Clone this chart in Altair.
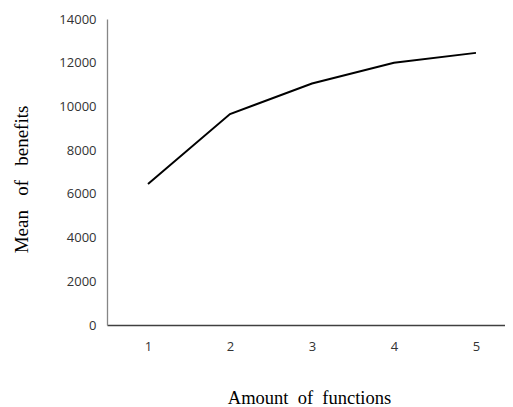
import altair as alt
import pandas as pd

functions = [1, 2, 3, 4, 5]
benefits = [6450, 9650, 11050, 12000, 12450]

df = pd.DataFrame({"functions": functions, "benefits": benefits})

chart = alt.Chart(df).mark_line(color="black", strokeWidth=2).encode(
    x=alt.X("functions:Q",
            scale=alt.Scale(domain=[0.5, 5.354], nice=False, zero=False),
            axis=alt.Axis(values=functions, format="d", title="Amount\u00a0 of\u00a0 functions",
                          grid=False, ticks=False, domainColor="#404040", domainWidth=1.3,
                          labelFont="Open Sans", labelFontSize=13, labelColor="#333333",
                          labelPadding=15,
                          titleFont="Liberation Serif", titleFontSize=18.5, titleFontWeight="normal",
                          titleColor="black", titleX=202, titleY=78, titleBaseline="alphabetic",
                          titleAlign="center")),
    y=alt.Y("benefits:Q",
            scale=alt.Scale(domain=[0, 14000], nice=False),
            axis=alt.Axis(values=list(range(0, 14001, 2000)), format="d",
                          title="Mean\u00a0\u00a0 of\u00a0\u00a0 benefits",
                          grid=False, ticks=False, domainColor="#868686", domainWidth=1.3,
                          labelFont="Open Sans", labelFontSize=13, labelColor="#333333",
                          labelPadding=11,
                          titleFont="Liberation Serif", titleFontSize=19, titleFontWeight="normal",
                          titleColor="black", titleX=-80, titleY=160, titleAngle=-90,
                          titleBaseline="alphabetic", titleAlign="center")),
).properties(
    width=398, height=306,
    autosize=alt.AutoSizeParams(type="none"),
    padding={"left": 99, "top": 11, "right": 0, "bottom": 82},
).configure_view(stroke=None)

chart.save("out.html", embed_options={"renderer": "svg", "actions": False})
